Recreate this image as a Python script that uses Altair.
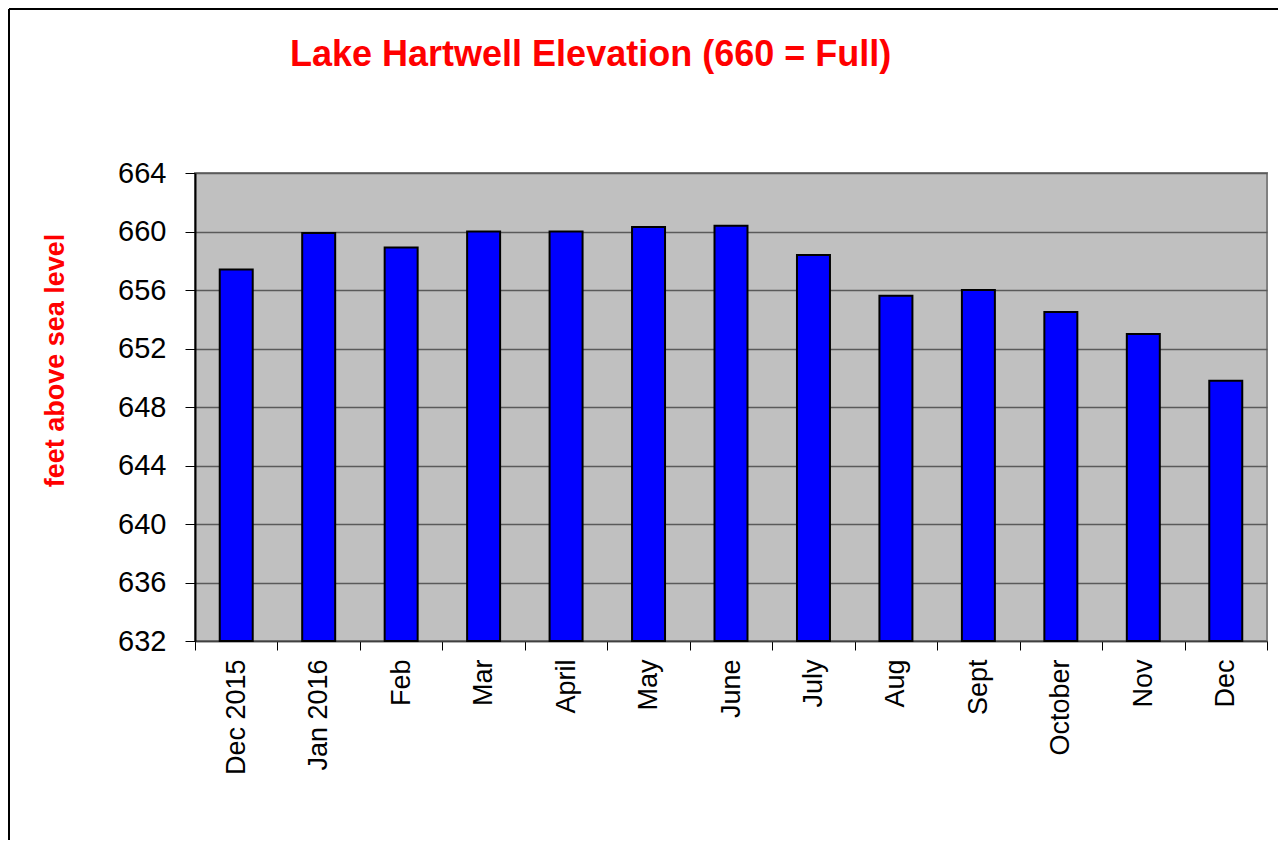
import altair as alt
import pandas as pd

months = ["Dec 2015", "Jan 2016", "Feb", "Mar", "April", "May", "June",
          "July", "Aug", "Sept", "October", "Nov", "Dec"]
elevation = [657.4, 659.9, 658.9, 660.0, 660.0, 660.3, 660.4,
             658.4, 655.6, 656.0, 654.5, 653.0, 649.8]
y_ticks = [632, 636, 640, 644, 648, 652, 656, 660, 664]
title_text = "Lake Hartwell Elevation (660 = Full)"
y_title = "feet above sea level"

FONT = "Liberation Sans"
W, H = 1072, 468

df = pd.DataFrame({"month": months, "elevation": elevation})
one = pd.DataFrame({"k": [0]})

bars = alt.Chart(df).mark_bar(
    color="#0000FF", stroke="#000000", strokeWidth=2, width={"band": 0.4}
).encode(
    x=alt.X("month:N", sort=months,
            scale=alt.Scale(paddingInner=0, paddingOuter=0),
            axis=alt.Axis(title=None, labelAngle=-90, labelAlign="right",
                          labelBaseline="middle", labelFont=FONT,
                          labelFontSize=27, labelColor="#000000",
                          labelPadding=9, tickBand="extent", tickSize=9,
                          tickColor="#000000", tickWidth=1,
                          domainColor="#404040", domainWidth=1.5,
                          grid=False, labelOverlap=False)),
    y=alt.Y("elevation:Q",
            scale=alt.Scale(domain=[632, 664], nice=False, zero=False),
            axis=alt.Axis(values=y_ticks, title=y_title, titleFont=FONT,
                          titleFontSize=27, titleFontWeight="bold",
                          titleColor="#FF0000", titleX=-132, titleY=187,
                          titleAlign="center", titleBaseline="alphabetic",
                          titleAngle=270,
                          labelFont=FONT, labelFontSize=29,
                          labelColor="#000000", labelPadding=19,
                          tickSize=10, tickColor="#000000", tickWidth=1,
                          domainColor="#000000", domainWidth=2,
                          grid=True, gridColor="#5a5a5a", gridWidth=1.5)),
    y2=alt.datum(632),
)

left_border = alt.Chart(one).mark_rule(color="#000000", strokeWidth=2).encode(
    x=alt.value(-186), y=alt.value(-164), y2=alt.value(667))
top_border = alt.Chart(one).mark_rule(color="#000000", strokeWidth=2).encode(
    x=alt.value(-186), x2=alt.value(1083), y=alt.value(-164))

title = alt.Chart(one).mark_text(
    text=title_text, align="left", baseline="alphabetic", font=FONT,
    fontSize=36, fontWeight="bold", color="#FF0000"
).encode(x=alt.value(95), y=alt.value(-107))

chart = alt.layer(bars, left_border, top_border, title).properties(
    width=W, height=H, padding=0, background="#FFFFFF"
).configure_view(stroke="#808080", strokeWidth=2, fill="#C0C0C0")

chart.save("out.html", embed_options={"renderer": "svg", "actions": False})
